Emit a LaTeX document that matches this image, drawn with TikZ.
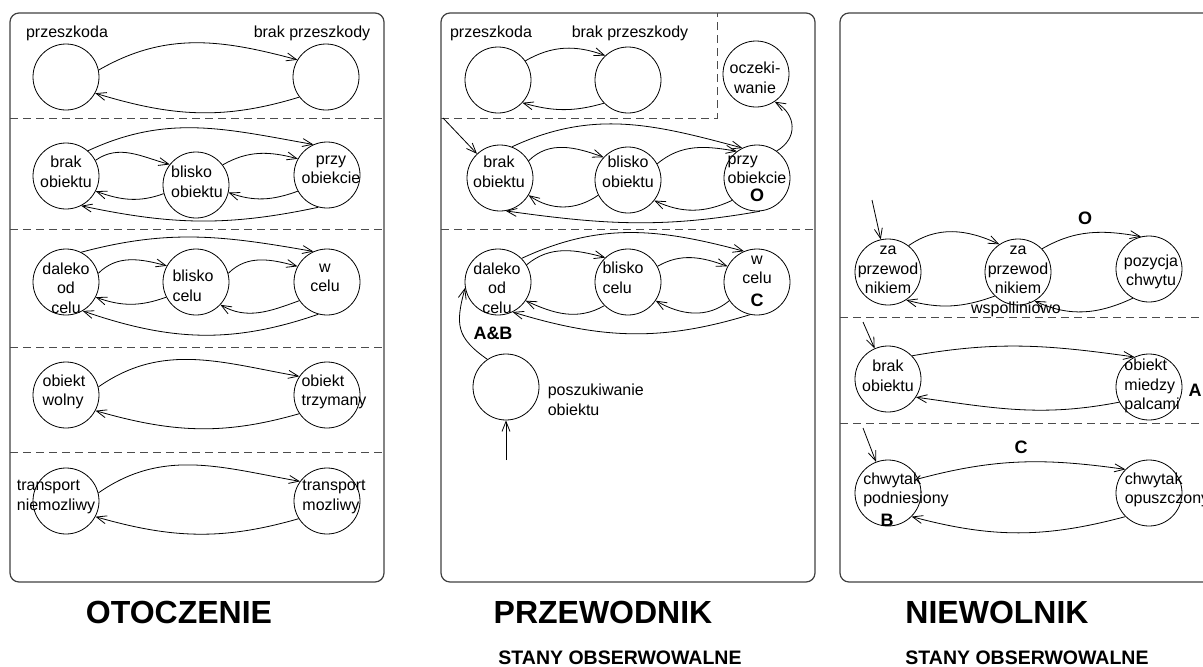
\documentclass[tikz,border=0pt]{standalone}
\usepackage{fontspec}
\setmainfont{Liberation Sans}
\usetikzlibrary{arrows.meta}
\newcommand{\fs}{\fontsize{16}{19.5}\selectfont}
\newcommand{\fb}{\fontsize{18}{21}\selectfont\bfseries}

\begin{document}
\begin{tikzpicture}[x=1pt,y=-1pt,line width=.8pt,
  st/.style={circle,draw,minimum size=66pt,inner sep=0pt},
  lab/.style={font=\fs,align=center,inner sep=0pt},
  labl/.style={font=\fs,align=left,inner sep=0pt},
  big/.style={font=\fb,inner sep=0pt},
  tr/.style={-{Straight Barb[length=10pt,width=8pt]}},
  panel/.style={draw=black!75,line width=1.2pt,rounded corners=9pt},
  sep/.style={draw=black!70,dash pattern=on 8pt off 5pt},
  title/.style={font=\fontsize{32}{38}\selectfont\bfseries,anchor=base},
  sub/.style={font=\fontsize{19.5}{23}\selectfont\bfseries,anchor=base}]
\useasboundingbox (0,0) rectangle (1203,667);
\clip (0,0) rectangle (1203,667);

\draw[panel] (10,13) rectangle (384,582);
\draw[panel] (441,13) rectangle (815,582);
\draw[panel] (840,13) rectangle (1230,582);
\draw[sep] (10,118) -- (384,118);
\draw[sep] (10,229) -- (384,229);
\draw[sep] (10,347) -- (384,347);
\draw[sep] (10,452) -- (384,452);
\draw[sep] (441,118) -- (717,118) -- (717,13);
\draw[sep] (441,229) -- (815,229);
\draw[sep] (840,317) -- (1210,317);
\draw[sep] (840,423) -- (1210,423);

% otoczenie
\node[st,label={[lab,xshift=1pt,yshift=44pt]center:przeszkoda}] (L1a) at (66,77) {};
\node[st,label={[lab,xshift=-14pt,yshift=44pt]center:brak przeszkody}] (L1b) at (326,77) {};
\draw[tr] (L1a.12) to[out=30,in=165] (L1b.149);
\draw[tr] (L1b.217) to[out=197,in=-17] (L1a.331);

\node[st,label={[lab,yshift=4pt]center:{brak\\obiektu}}] (Lba) at (66,176) {};
\node[st,label={[labl,xshift=1pt,yshift=3pt]center:{blisko\\obiektu}}] (Lbb) at (196,185) {};
\node[st,label={[lab,xshift=4pt,yshift=5pt]center:{przy\\obiekcie}}] (Lbc) at (327,175) {};
\draw[tr] (Lba.28) to[out=35,in=165] (Lbb.142);
\draw[tr] (Lbb.195) to[out=200,in=-20] (Lba.333);
\draw[tr] (Lbb.37) to[out=30,in=165] (Lbc.151);
\draw[tr] (Lbc.209) to[out=200,in=-20] (Lbb.347);
\draw[tr] (Lba.49) to[out=25,in=170] (Lbc.114);
\draw[tr] (Lbc.255) to[out=192,in=-12] (Lba.297);

\node[st,label={[lab,yshift=-6pt]center:{daleko\\od\\celu}}] (Lca) at (66,282) {};
\node[st,label={[labl,xshift=-3pt,yshift=-4pt]center:{blisko\\celu}}] (Lcb) at (196,282) {};
\node[st,label={[lab,xshift=-2pt,yshift=4pt]center:{w\\celu}}] (Lcc) at (327,282) {};
\draw[tr] (Lca.15) to[out=45,in=165] (Lcb.151);
\draw[tr] (Lcb.207) to[out=200,in=-20] (Lca.333);
\draw[tr] (Lcb.15) to[out=45,in=165] (Lcc.152);
\draw[tr] (Lcc.214) to[out=200,in=-30] (Lcb.317);
\draw[tr] (Lca.63) to[out=15,in=170] (Lcc.114);
\draw[tr] (Lcc.255) to[out=199,in=-19] (Lca.300);

\node[st,label={[labl,xshift=-2pt,yshift=3pt]center:{obiekt\\wolny}}] (Lda) at (66,395) {};
\node[st,label={[labl,xshift=7pt,yshift=3pt]center:{obiekt\\trzymany}}] (Ldb) at (327,395) {};
\draw[tr] (Lda.14) to[out=35,in=170] (Ldb.146);
\draw[tr] (Ldb.214) to[out=196,in=-16] (Lda.332);

\node[st,label={[labl,xshift=-10pt,yshift=4pt]center:{transport\\niemozliwy}}] (Lea) at (66,501) {};
\node[st,label={[labl,xshift=7pt,yshift=4pt]center:{transport\\mozliwy}}] (Leb) at (327,501) {};
\draw[tr] (Lea.14) to[out=35,in=170] (Leb.144);
\draw[tr] (Leb.212) to[out=196,in=-16] (Lea.332);

% przewodnik
\node[st,label={[lab,xshift=-7pt,yshift=47pt]center:przeszkoda}] (Ma) at (498,80) {};
\node[st,label={[lab,xshift=2pt,yshift=47pt]center:brak przeszkody}] (Mb) at (628,80) {};
\node[st,label={[lab,xshift=-1pt,yshift=-4pt]center:{oczeki-\\wanie}}] (Mo) at (756,74) {};
\draw[tr] (Ma.35) to[out=30,in=160] (Mb.133);
\draw[tr] (Mb.224) to[out=196,in=-16] (Ma.317);

\coordinate (mb0) at (443,118);
\node[st,label={[lab,xshift=-1pt,yshift=6pt]center:{brak\\obiektu}}] (Mba) at (500,178) {};
\node[st,label={[lab,yshift=8pt]center:{blisko\\obiektu}}] (Mbb) at (628,180) {};
\node[st,label={[labl,yshift=8pt]center:{przy\\obiekcie}},
  label={[big,yshift=-17pt]center:O}] (Mbc) at (757,178) {};
\draw[tr] (mb0) -- (Mba);
\draw[tr] (Mba.31) to[out=45,in=160] (Mbb.137);
\draw[tr] (Mbb.207) to[out=215,in=-35] (Mba.329);
\draw[tr] (Mbb.29) to[out=40,in=170] (Mbc.127);
\draw[tr] (Mbc.222) to[out=205,in=-25] (Mbb.322);
\draw[tr] (Mba.69) to[out=25,in=165] (Mbc.116);
\draw[tr] (Mbc.275) to[out=190,in=-8] (Mba.280);
\draw[tr] (Mbc.54) to[out=30,in=-30,looseness=1.3] (Mo.-56);

\node[st,label={[lab,xshift=-1pt,yshift=-6pt]center:{daleko\\od\\celu}}] (Mca) at (498,282) {};
\node[st,label={[labl,xshift=-5pt,yshift=4pt]center:{blisko\\celu}}] (Mcb) at (628,282) {};
\node[st,label={[lab,yshift=12pt]center:{w\\celu}},
  label={[big,yshift=-18pt]center:C}] (Mcc) at (757,282) {};
\draw[tr] (Mca.31) to[out=40,in=165] (Mcb.133);
\draw[tr] (Mcb.225) to[out=210,in=-25] (Mca.326);
\draw[tr] (Mcb.28) to[out=30,in=160] (Mcc.152);
\draw[tr] (Mcc.214) to[out=220,in=-30] (Mcb.326);
\draw[tr] (Mca.45) to[out=25,in=165] (Mcc.113);
\draw[tr] (Mcc.258) to[out=197,in=-17] (Mca.296);

\coordinate (mp0) at (506,460);
\node[st,label={[labl,anchor=west,xshift=8pt,yshift=-13pt]right:{poszukiwanie\\obiektu}},
  label={[big,xshift=-13pt,yshift=54pt]center:A\&B}] (Mp) at (506,387) {};
\draw[tr] (mp0) -- (Mp);
\draw[tr] (Mp.124) to[out=145,in=255,looseness=1.3] (Mca.190);

% niewolnik
\coordinate (ra0) at (872,200);
\node[st,label={[lab,yshift=2pt]center:{za\\przewod\\nikiem}}] (Ra) at (888,272) {};
\node[st,label={[lab,yshift=2pt]center:{za\\przewod\\nikiem}},
  label={[lab,xshift=-2pt,yshift=-37pt]center:wspolliniowo}] (Rb) at (1018,272) {};
\node[st,label={[lab,xshift=2pt,yshift=-3pt]center:{pozycja\\chwytu}}] (Rc) at (1149,269) {};
\draw[tr] (ra0) -- (Ra);
\draw[tr] (Ra.52) to[out=35,in=155] (Rb.124);
\draw[tr] (Rb.226) to[out=200,in=-15] (Ra.303);
\draw[tr] (Rb.44) to[out=30,in=170] node[big,pos=.45,above=8pt] {O} (Rc.104);
\draw[tr] (Rc.241) to[out=205,in=-25] (Rb.300);

\coordinate (rb0) at (863,322);
\node[st,label={[lab,yshift=3pt]center:{brak\\obiektu}}] (Rba) at (888,379) {};
\node[st,label={[labl,xshift=3pt,yshift=1pt]center:{obiekt\\miedzy\\palcami}},
  label={[big,xshift=46pt,yshift=-3pt]center:A}] (Rbb) at (1149,387) {};
\draw[tr] (rb0) -- (Rba);
\draw[tr] (Rba.44) to[out=10,in=172] (Rbb.116);
\draw[tr] (Rbb.207) to[out=191,in=-8] (Rba.327);

\coordinate (rc0) at (863,428);
\node[st,label={[labl,xshift=18pt,yshift=3pt]center:{chwytak\\podniesiony}},
  label={[big,xshift=-1pt,yshift=-27pt]center:B}] (Rca) at (888,493) {};
\node[st,label={[labl,xshift=18pt,yshift=3pt]center:{chwytak\\opuszczony}}] (Rcb) at (1149,493) {};
\draw[tr] (rc0) -- (Rca);
\draw[tr] (Rca.25) to[out=15,in=172] node[big,above=8pt] {C} (Rcb.135);
\draw[tr] (Rcb.225) to[out=195,in=-15] (Rca.315);

\node[title] (tot) at (179,623) {OTOCZENIE};
\node[title] (tprz) at (603,623) {PRZEWODNIK};
\node[title] (tniew) at (997,623) {NIEWOLNIK};
\node[sub] (sprz) at (620,664) {STANY OBSERWOWALNE};
\node[sub] (sniew) at (1027,664) {STANY OBSERWOWALNE};
\end{tikzpicture}
\end{document}
